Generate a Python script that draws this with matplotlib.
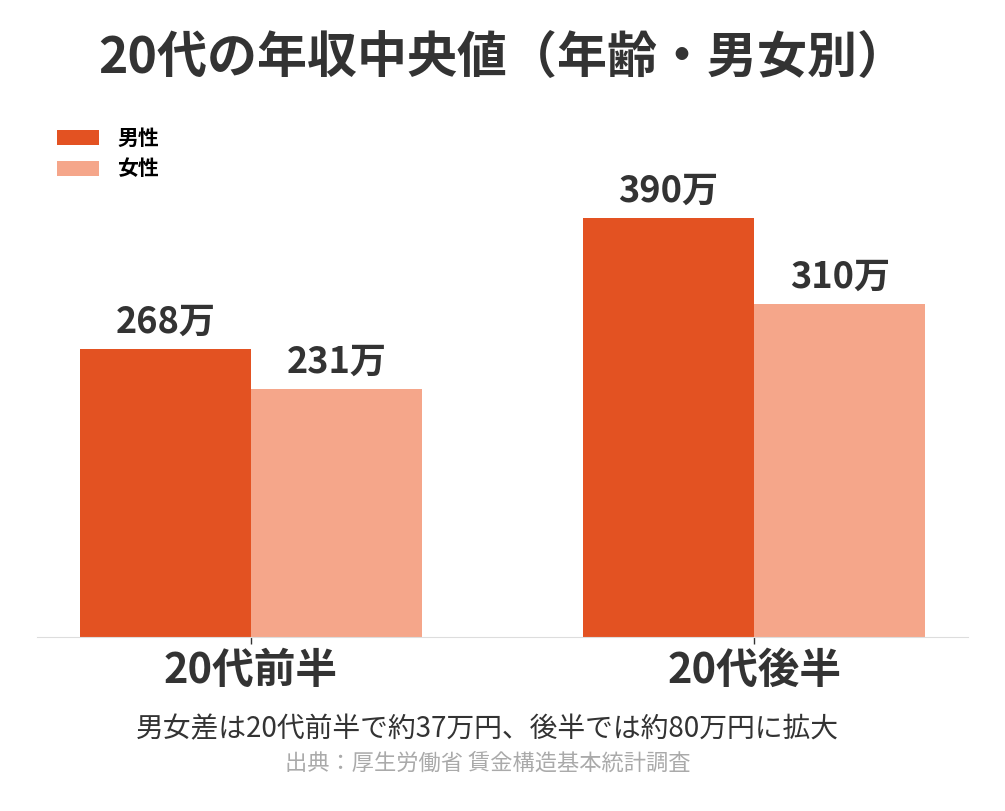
import matplotlib.pyplot as plt
import numpy as np

plt.rcParams['font.family'] = ['Noto Sans CJK JP', 'DejaVu Sans']

# data
groups = ['20代前半', '20代後半']
male = [268, 390]
female = [231, 310]
series_names = ['男性', '女性']
colors = ['#e35222', '#f5a68a']

fig = plt.figure(figsize=(10.05, 8.11), dpi=100)
ax = fig.add_axes([37 / 1005, 1 - 637 / 811, 931 / 1005, 484 / 811])

x = np.arange(len(groups))
w = 0.34
b1 = ax.bar(x - w / 2, male, w, color=colors[0], label=series_names[0])
b2 = ax.bar(x + w / 2, female, w, color=colors[1], label=series_names[1])

for bars, vals in [(b1, male), (b2, female)]:
    for bar, v in zip(bars, vals):
        ax.text(bar.get_x() + bar.get_width() / 2, v + 7, f'{v}万',
                ha='center', va='bottom', fontsize=26, fontweight='bold', color='#333333')

ax.set_xlim(-0.425, 1.425)
ax.set_ylim(0, 450)
ax.set_xticks(x)
ax.set_xticklabels(groups, fontsize=30, fontweight='bold', color='#333333')
ax.tick_params(axis='x', length=5, width=1, color='#333333', pad=4)
ax.set_yticks([])
for s in ['top', 'right', 'left']:
    ax.spines[s].set_visible(False)
ax.spines['bottom'].set_color('#dddddd')

leg = fig.legend(handles=[b1, b2], loc='upper left', bbox_to_anchor=(57 / 1005, 1 - 128 / 811),
                 frameon=False, fontsize=15, handlelength=2.0, handleheight=0.72,
                 handletextpad=0.9, labelspacing=0.45, borderpad=0, borderaxespad=0)
for t in leg.get_texts():
    t.set_fontweight('bold')

fig.text(0.5, 1 - 58 / 811, '20代の年収中央値（年齢・男女別）', ha='center', va='center',
         fontsize=36, fontweight='bold', color='#333333')
fig.text(0.485, 1 - 729 / 811, '男女差は20代前半で約37万円、後半では約80万円に拡大',
         ha='center', va='center', fontsize=20, color='#333333')
fig.text(0.485, 1 - 763 / 811, '出典：厚生労働省 賃金構造基本統計調査',
         ha='center', va='center', fontsize=16, color='#aaaaaa')

fig.savefig('out.png', dpi=100, facecolor='white')
